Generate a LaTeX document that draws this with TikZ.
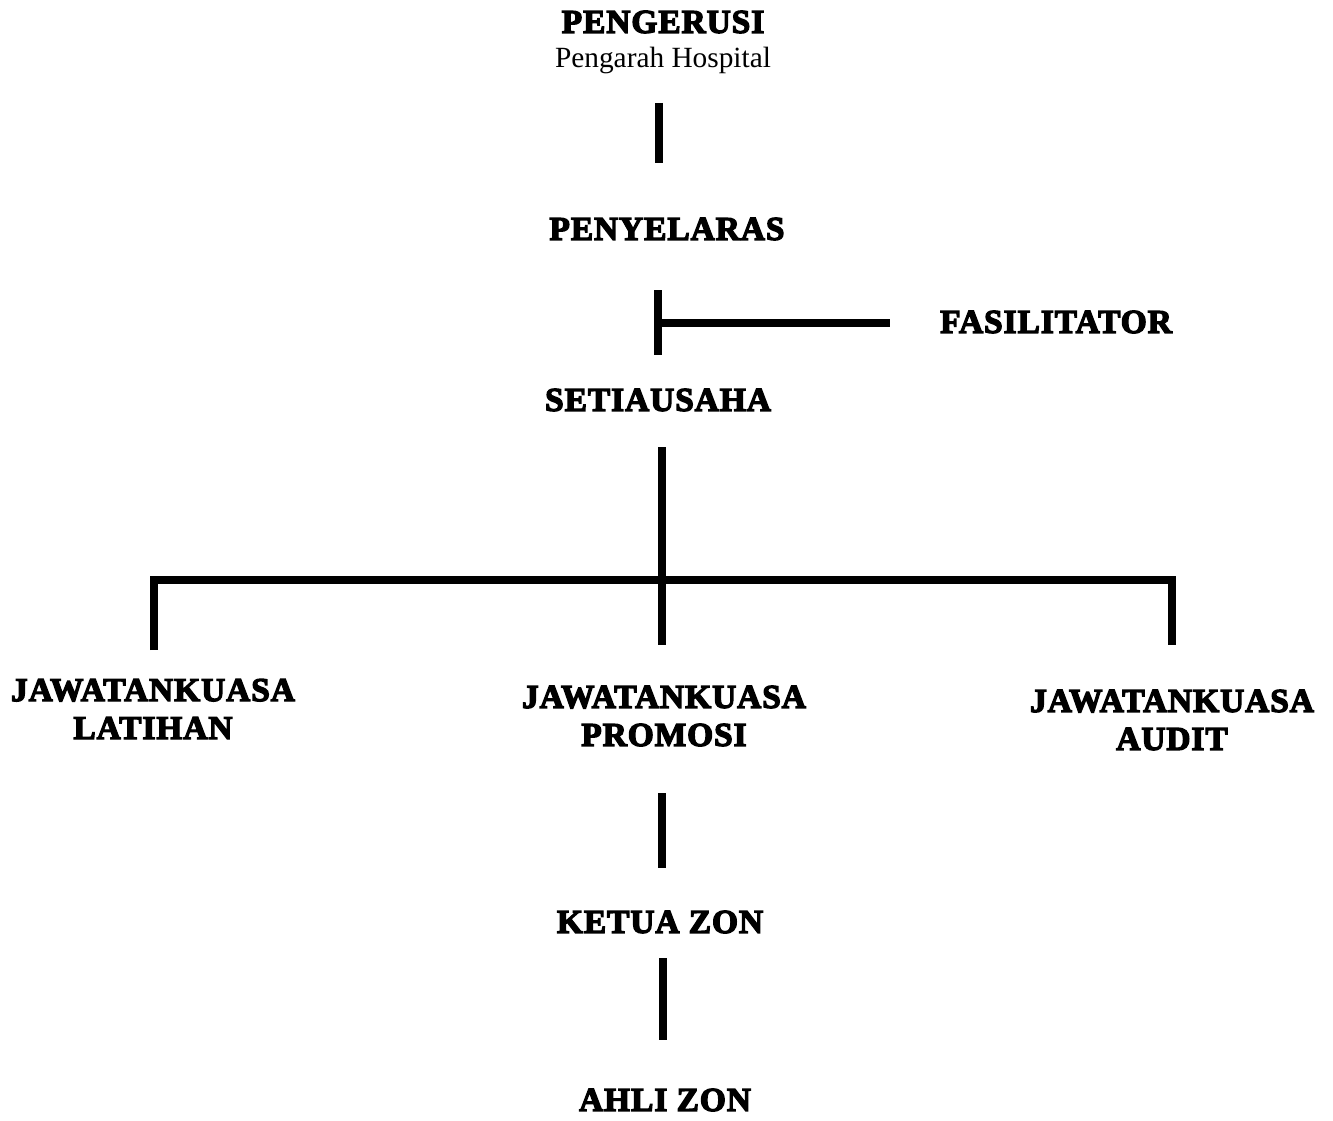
\documentclass[tikz,border=0pt]{standalone}
\usepackage{fontspec}
\setmainfont{Liberation Serif}
\newfontfamily\heavyfont[FakeBold=4,LetterSpace=3]{Liberation Serif Bold}
\usetikzlibrary{positioning}

\tikzset{
  post/.style={font=\heavyfont\fontsize{25}{28.5}\selectfont, align=center, inner sep=0pt},
  sub/.style={font=\fontsize{22}{24}\selectfont, inner sep=0pt},
  link/.style={line width=6pt}
}

\begin{document}
\begin{tikzpicture}[x=0.75pt,y=-0.75pt,line cap=butt,line join=miter]
  \useasboundingbox (0,0) rectangle (1333,1120);
  % labels
  \node[post] (chair) at (663,22) {PENGERUSI};
  \node[sub] (dir) at (663,60) {Pengarah Hospital};
  \node[post] (coord) at (667,229) {PENYELARAS};
  \node[post] (facil) at (1056,322) {FASILITATOR};
  \node[post] (sec) at (658,400) {SETIAUSAHA};
  \node[post] (train) at (153,709) {JAWATANKUASA\\LATIHAN};
  \node[post] (promo) at (664,716) {JAWATANKUASA\\PROMOSI};
  \node[post] (audit) at (1172,720) {JAWATANKUASA\\AUDIT};
  \node[post] (zlead) at (660,922) {KETUA ZON};
  \node[post] (zmem) at (665,1100) {AHLI ZON};
  % line ends
  \coordinate (c1) at (659,103);
  \coordinate (c2) at (659,163);
  \coordinate (c3) at (658,290);
  \coordinate (c4) at (658,355);
  \coordinate (f1) at (658,323);
  \coordinate (f2) at (890,323);
  \coordinate (s1) at (662,447);
  \coordinate (s2) at (662,645);
  \coordinate (b1) at (154,650);
  \coordinate (b2) at (154,580);
  \coordinate (b3) at (1172,580);
  \coordinate (b4) at (1172,645);
  \coordinate (p1) at (662,793);
  \coordinate (p2) at (662,868);
  \coordinate (k1) at (663,958);
  \coordinate (k2) at (663,1040);
  % connectors
  \draw[link] (c1) -- (c2);
  \draw[link] (c3) -- (c4);
  \draw[link] (f1) -- (f2);
  \draw[link] (s1) -- (s2);
  \draw[link] (b1) -- (b2) -- (b3) -- (b4);
  \draw[link] (p1) -- (p2);
  \draw[link] (k1) -- (k2);
\end{tikzpicture}
\end{document}
